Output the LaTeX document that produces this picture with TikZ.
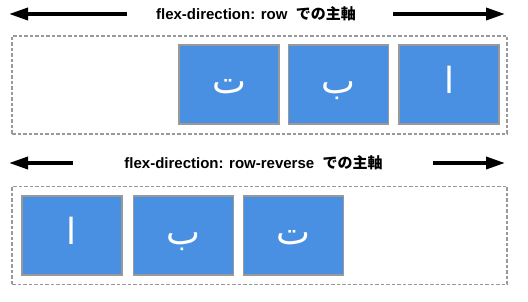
\documentclass[tikz,border=0pt]{standalone}
\usepackage{fontspec}
\setmainfont{Liberation Sans}
\newfontfamily\cjk{Noto Sans CJK JP}
\newfontfamily\arabicfont[Script=Arabic]{DejaVu Sans}
\TeXXeTstate=1
\usepackage{xcolor}
\usepackage{tikz}
\usetikzlibrary{arrows.meta}
\definecolor{itemBlue}{HTML}{4A90E2}
\definecolor{itemGray}{HTML}{999999}
\tikzset{
  mainaxis/.style={-{Triangle[length=19pt, width=12pt]}, line width=3.5pt, black},
  container/.style={draw=itemGray, dashed, dash pattern=on 3.5pt off 2pt, line width=1.5pt,
    minimum width=495pt, minimum height=98pt, inner sep=0pt},
  item/.style={draw=itemGray, fill=itemBlue, line width=1.2pt, minimum width=100pt,
    minimum height=79pt, inner sep=0pt, text=white,
    font=\arabicfont\fontsize{36}{40}\selectfont},
  ttl/.style={font=\bfseries\fontsize{15}{18}\selectfont, inner sep=0pt},
}
\newcommand{\arab}[1]{\smash{\raisebox{-9pt}{\beginR #1\endR}}}

\begin{document}
\begin{tikzpicture}[x=1pt, y=-1pt]
  \useasboundingbox (0,0) rectangle (528,302);
  % row
  \node[ttl] (rowttl) at (256,14) {flex-direction: row\ \ {\cjk\bfseries での主軸}};
  \coordinate (rowL) at (9,14);
  \coordinate (rowLs) at (127,14);
  \coordinate (rowR) at (505,14);
  \coordinate (rowRs) at (393,14);
  \draw[mainaxis] (rowLs) -- (rowL);
  \draw[mainaxis] (rowRs) -- (rowR);
  \node[container] (rowbox) at (259.5,85) {};
  \node[item] (rowC) at (229,84.5) {\arab{ت}};
  \node[item] (rowB) at (338.5,84.5) {\arab{ب}};
  \node[item] (rowA) at (449,84.5) {\arab{ا}};
  % row-reverse
  \node[ttl] (revttl) at (253.5,163) {flex-direction: row-reverse\ \ {\cjk\bfseries での主軸}};
  \coordinate (revL) at (9,163);
  \coordinate (revLs) at (73,163);
  \coordinate (revR) at (505,163);
  \coordinate (revRs) at (433,163);
  \draw[mainaxis] (revLs) -- (revL);
  \draw[mainaxis] (revRs) -- (revR);
  \node[container] (revbox) at (259.5,235.5) {};
  \node[item] (revA) at (72,235.5) {\arab{ا}};
  \node[item] (revB) at (183.5,235.5) {\arab{ب}};
  \node[item] (revC) at (293.5,235.5) {\arab{ت}};
\end{tikzpicture}
\end{document}
